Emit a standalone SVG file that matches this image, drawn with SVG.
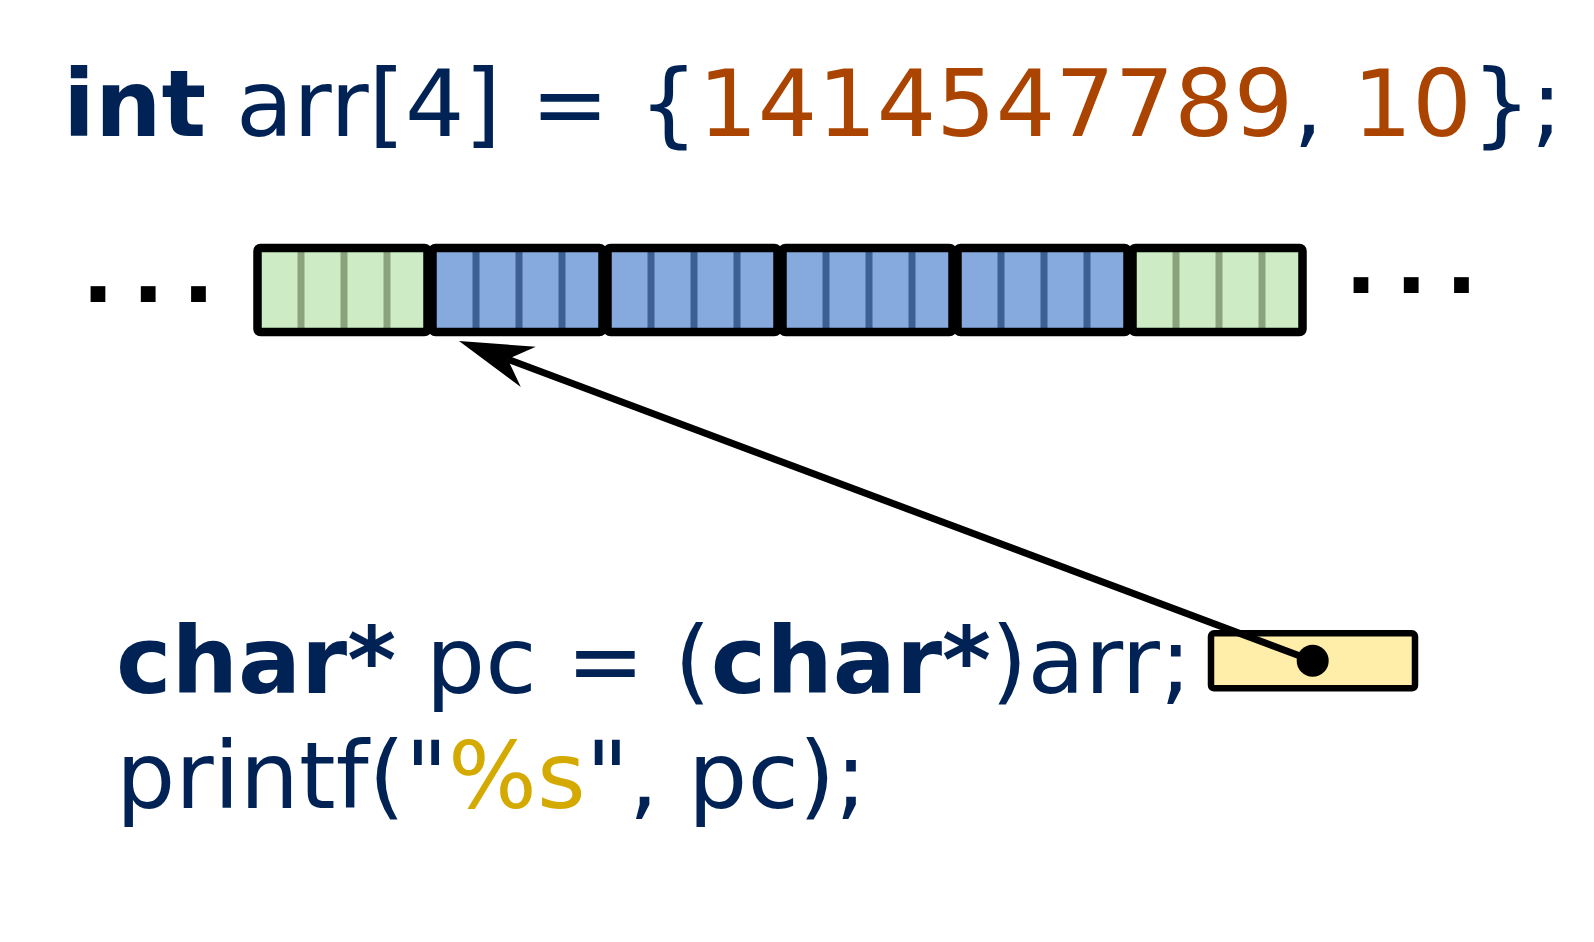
<svg xmlns="http://www.w3.org/2000/svg" width="1594" height="942" viewBox="0 0 1594 942">
<style>
.code{font-family:"DejaVu Sans","Liberation Sans",sans-serif;font-size:93.5px;fill:#002255}
.b{font-weight:bold}
.num{fill:#aa4400}
.fmt{fill:#d4aa00}
.dots{font-family:"DejaVu Sans",sans-serif;font-weight:bold;font-size:84px;fill:#000;letter-spacing:18.3px}
.gfill{fill:#cdecc5}
.bfill{fill:#87aade}
.gdiv{stroke:#8aa37c;stroke-width:7}
.bdiv{stroke:#3e5f91;stroke-width:7}
.outline{fill:none;stroke:#000;stroke-width:8.5;stroke-linejoin:round}
</style>
<rect width="1594" height="942" fill="#fff"/>
<g id="decl">
<text class="code" x="63" y="136"><tspan class="b">int</tspan> arr[4] = {<tspan class="num">1414547789</tspan>, <tspan class="num">10</tspan>};</text>
</g>
<g id="dots-left"><text class="dots" x="82" y="301.7">...</text></g>
<g id="dots-right"><text class="dots" x="1345" y="293.3">...</text></g>
<g id="block0">
<rect class="gfill" x="257.5" y="248" width="170" height="84"/>
<path class="gdiv" d="M301 252V328M344 252V328M387 252V328"/>
<rect class="outline" x="257.5" y="248" width="170" height="84" rx="3"/>
</g>
<g id="block1">
<rect class="bfill" x="432.5" y="248" width="170" height="84"/>
<path class="bdiv" d="M476 252V328M519 252V328M562 252V328"/>
<rect class="outline" x="432.5" y="248" width="170" height="84" rx="3"/>
</g>
<g id="block2">
<rect class="bfill" x="607.5" y="248" width="170" height="84"/>
<path class="bdiv" d="M651 252V328M694 252V328M737 252V328"/>
<rect class="outline" x="607.5" y="248" width="170" height="84" rx="3"/>
</g>
<g id="block3">
<rect class="bfill" x="782.5" y="248" width="170" height="84"/>
<path class="bdiv" d="M826 252V328M869 252V328M912 252V328"/>
<rect class="outline" x="782.5" y="248" width="170" height="84" rx="3"/>
</g>
<g id="block4">
<rect class="bfill" x="957.5" y="248" width="170" height="84"/>
<path class="bdiv" d="M1001 252V328M1044 252V328M1087 252V328"/>
<rect class="outline" x="957.5" y="248" width="170" height="84" rx="3"/>
</g>
<g id="block5">
<rect class="gfill" x="1132.5" y="248" width="170" height="84"/>
<path class="gdiv" d="M1176 252V328M1219 252V328M1262 252V328"/>
<rect class="outline" x="1132.5" y="248" width="170" height="84" rx="3"/>
</g>
<g id="code">
<text class="code" x="116" y="693.3"><tspan class="b">char*</tspan> pc = (<tspan class="b">char*</tspan>)arr;</text>
<text class="code" x="116" y="808.3">printf("<tspan class="fmt">%s</tspan>", pc);</text>
</g>
<g id="pc">
<rect x="1211" y="633.3" width="204" height="55" rx="3" fill="#ffeeaa" stroke="#000" stroke-width="6.5"/>
</g>
<g id="connectors">
<path d="M1312.7 660.7L507.7 359.2" stroke="#000" stroke-width="7" fill="none"/>
<polygon points="459,341 535.8,346.8 507.7,359.2 520.8,387.1" fill="#000"/>
<circle cx="1312.7" cy="660.7" r="16" fill="#000"/>
</g>
</svg>
